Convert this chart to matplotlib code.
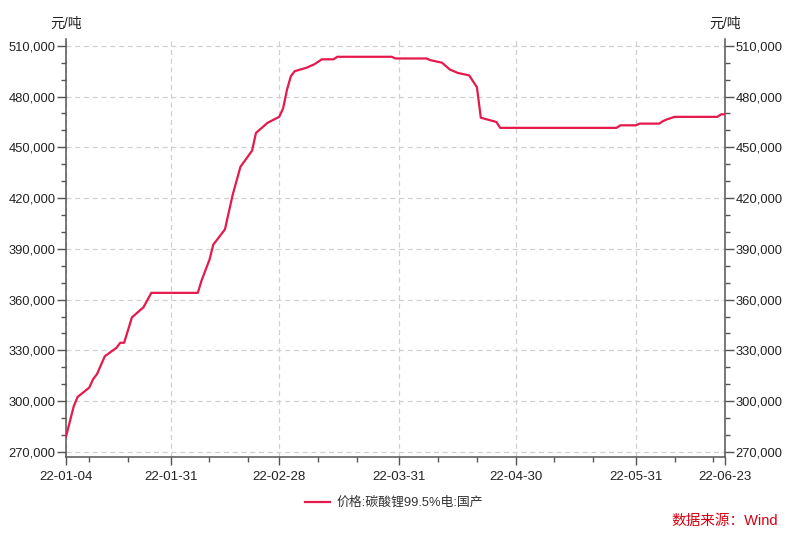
import matplotlib
matplotlib.use('Agg')
import matplotlib.pyplot as plt
import matplotlib.dates as mdates
import matplotlib.ticker as mticker
import pandas as pd

plt.rcParams['font.family'] = ['Liberation Sans', 'Noto Sans CJK SC', 'DejaVu Sans']

dates = ['2022-01-04', '2022-01-05', '2022-01-06', '2022-01-07', '2022-01-10', '2022-01-11',
         '2022-01-12', '2022-01-14', '2022-01-17', '2022-01-18', '2022-01-19', '2022-01-21',
         '2022-01-24', '2022-01-26', '2022-02-07', '2022-02-08', '2022-02-10', '2022-02-11',
         '2022-02-14', '2022-02-16', '2022-02-18', '2022-02-21', '2022-02-22', '2022-02-25',
         '2022-02-28', '2022-03-01', '2022-03-02', '2022-03-03', '2022-03-04', '2022-03-07',
         '2022-03-09', '2022-03-11', '2022-03-14', '2022-03-15', '2022-03-29', '2022-03-30',
         '2022-04-07', '2022-04-08', '2022-04-11', '2022-04-13', '2022-04-15', '2022-04-18',
         '2022-04-20', '2022-04-21', '2022-04-25', '2022-04-26', '2022-05-26', '2022-05-27',
         '2022-05-31', '2022-06-01', '2022-06-06', '2022-06-07', '2022-06-08', '2022-06-10',
         '2022-06-21', '2022-06-22', '2022-06-23']
prices = [279000, 288000, 297000, 302500, 308000, 313000,
          316000, 326500, 331500, 334500, 334500, 349500,
          355500, 364000, 364000, 371500, 383500, 392500,
          401500, 422000, 438500, 448000, 458500, 464500,
          468000, 473000, 484000, 492000, 495000, 497000,
          499000, 502000, 502000, 503500, 503500, 502500,
          502500, 501500, 500000, 496000, 494000, 492500,
          485500, 467500, 465000, 461500, 461500, 463000,
          463000, 464000, 464000, 465500, 466500, 468000,
          468000, 469500, 469500]
x_ticks = ['2022-01-04', '2022-01-31', '2022-02-28', '2022-03-31', '2022-04-30', '2022-05-31', '2022-06-23']
y_ticks = [270000, 300000, 330000, 360000, 390000, 420000, 450000, 480000, 510000]
series_name = '价格:碳酸锂99.5%电:国产'

dt = pd.to_datetime(dates)
xt = pd.to_datetime(x_ticks)

fig = plt.figure(figsize=(8, 5.33), dpi=100)
ax = fig.add_axes([0.0825, 0.1426, 0.8238, 0.7842])

line, = ax.plot(dt, prices, color='#E5194B', lw=1.6, label=series_name, zorder=3)

ax.set_xlim(xt[0], xt[-1])
ax.set_ylim(267000, 514000)

ax.set_xticks(xt)
ax.xaxis.set_major_formatter(mdates.DateFormatter('%y-%m-%d'))
ax.xaxis.set_minor_locator(mdates.DayLocator(bymonthday=[10, 20]))
ax.set_yticks(y_ticks)
ax.yaxis.set_minor_locator(mticker.MultipleLocator(10000))
ax.yaxis.set_major_formatter(mticker.FuncFormatter(lambda v, p: f'{int(v):,}'))

ax.grid(True, which='major', color='#d0d0d0', ls=(0, (4, 3)), lw=0.9)
for s in ['left', 'right', 'bottom']:
    ax.spines[s].set_color('#555555')
    ax.spines[s].set_linewidth(1.1)
ax.spines['top'].set_visible(False)

ax.tick_params(axis='y', which='both', left=True, right=True, labelleft=True, labelright=True,
               colors='#555555', labelcolor='#222222', labelsize=9.3, pad=1)
ax.tick_params(axis='y', which='major', length=6.5, width=1)
ax.tick_params(axis='y', which='minor', length=3.5, width=1)
ax.tick_params(axis='x', which='major', length=6, width=1, colors='#555555',
               labelcolor='#222222', labelsize=9.5, pad=4)
ax.tick_params(axis='x', which='minor', length=3.5, width=1, colors='#555555')

fig.text(66 / 800, 1 - 24 / 533, '元/吨', ha='center', va='center', fontsize=10, color='#222222')
fig.text(725 / 800, 1 - 24 / 533, '元/吨', ha='center', va='center', fontsize=10, color='#222222')

fig.legend(handles=[line], loc='center', bbox_to_anchor=(394 / 800, 1 - 503 / 533),
           frameon=False, fontsize=9.3, handlelength=1.9, handletextpad=0.5,
           labelcolor='#333333')

fig.text(778 / 800, 1 - 521 / 533, '数据来源：Wind', ha='right', va='center',
         fontsize=10.5, color='#D7000F')

fig.savefig('out.png', dpi=100)
